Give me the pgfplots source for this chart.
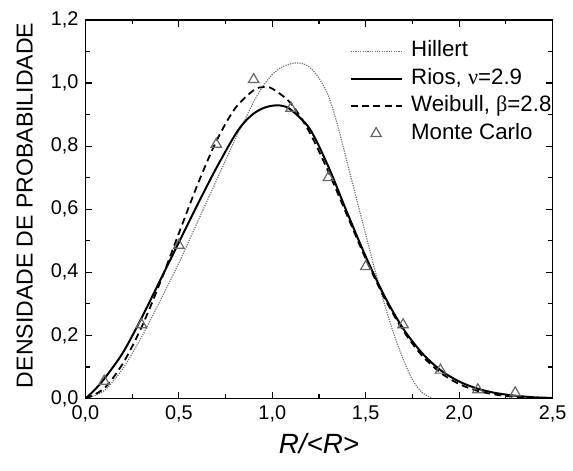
\documentclass[border=0pt]{standalone}
\usepackage{pgfplots}
\pgfplotsset{compat=1.18}
\usepackage{fontspec}
\setmainfont{Liberation Sans}
\newfontfamily\greek{Liberation Serif}

\pgfplotsset{
    markleg/.style={legend image code/.code={%
        \draw[mark repeat=2, mark phase=2, ##1] plot coordinates {(0cm,0cm) (0.45cm,0cm) (0.9cm,0cm)};
        \path (1.0cm,0cm);}},
}

\begin{document}
\begin{tikzpicture}
\begin{axis}[
    scale only axis,
    width=235pt, height=190.5pt,
    xmin=0, xmax=2.5, ymin=0, ymax=1.2,
    xtick={0,0.5,...,2.5},
    ytick={0,0.2,...,1.2},
    minor x tick num=1,
    minor y tick num=1,
    tick align=inside,
    xtick pos=both, ytick pos=both,
    major tick length=3.4pt,
    minor tick length=2.3pt,
    every tick/.style={black, line width=0.6pt},
    axis line style={line width=0.8pt},
    tick label style={font=\fontsize{10}{12}\selectfont},
    /pgf/number format/.cd, fixed, fixed zerofill, precision=1, use comma, assume math mode=true,
    /pgfplots/.cd,
    xlabel={\textit{R/<R>}},
    ylabel={DENSIDADE DE PROBABILIDADE},
    xlabel style={font=\fontsize{14}{16}\selectfont, at={(axis description cs:0.5,-0.12)}, anchor=center},
    ylabel style={font=\fontsize{11.6}{13}\selectfont, at={(axis description cs:-0.13,0.51)}, anchor=center},
    legend cell align=left,
    legend image code/.code={\draw[#1] (0cm,0cm) -- (0.9cm,0cm); \path (1.0cm,0cm);},
    legend style={draw=none, fill=none, at={(rel axis cs:0.552,0.965)}, anchor=north west,
        font=\fontsize{11.2}{13}\selectfont,
        nodes={text height=8.2pt, text depth=2.6pt, inner sep=1.5pt}},
]

% Hillert
\addplot[smooth, black!55, line width=0.6pt, dash pattern=on 0.6pt off 0.6pt] coordinates {
    (0,0) (0.1,0.025) (0.2,0.095) (0.3,0.195) (0.4,0.31) (0.5,0.43)
    (0.6,0.56) (0.7,0.69) (0.8,0.82) (0.85,0.88) (0.9,0.94) (0.95,0.99)
    (1.0,1.027) (1.05,1.05) (1.1,1.061) (1.15,1.063) (1.2,1.05) (1.25,1.015)
    (1.3,0.96) (1.35,0.865) (1.4,0.75) (1.45,0.635) (1.5,0.52) (1.55,0.405)
    (1.6,0.30) (1.65,0.205) (1.7,0.125) (1.75,0.06) (1.8,0.02) (1.85,0.002)
};

% Rios
\addplot[smooth, black, line width=1pt] coordinates {
    (0,0) (0.05,0.028) (0.1,0.062) (0.2,0.145) (0.3,0.255) (0.4,0.375)
    (0.5,0.495) (0.6,0.615) (0.7,0.73) (0.8,0.835) (0.85,0.875) (0.9,0.903)
    (0.95,0.92) (1.0,0.928) (1.05,0.928) (1.1,0.915) (1.2,0.855) (1.3,0.735)
    (1.4,0.59) (1.5,0.45) (1.6,0.325) (1.7,0.222) (1.8,0.145) (1.9,0.09)
    (2.0,0.054) (2.1,0.031) (2.2,0.017) (2.3,0.009) (2.4,0.004) (2.5,0.002)
};

% Weibull
\addplot[smooth, black, line width=0.9pt, dash pattern=on 3.5pt off 2.2pt] coordinates {
    (0,0) (0.1,0.032) (0.2,0.111) (0.3,0.226) (0.4,0.368) (0.5,0.524)
    (0.6,0.678) (0.7,0.815) (0.8,0.919) (0.9,0.977) (0.95,0.987) (1.0,0.982)
    (1.1,0.935) (1.2,0.843) (1.3,0.719) (1.4,0.581) (1.5,0.443) (1.6,0.319)
    (1.7,0.216) (1.8,0.137) (1.9,0.082) (2.0,0.046) (2.1,0.024) (2.2,0.012)
    (2.3,0.005) (2.4,0.002) (2.5,0.001)
};

% Monte Carlo
\addplot[only marks, mark=triangle, mark size=3pt, mark options={draw=black!60, line width=0.6pt}, markleg]
    coordinates {
    (0.1,0.055) (0.3,0.234) (0.5,0.486) (0.7,0.806) (0.9,1.011) (1.1,0.92)
    (1.3,0.70) (1.5,0.418) (1.7,0.234) (1.9,0.09) (2.1,0.028) (2.3,0.018)
};

\legend{Hillert, {Rios, {\greek ν}=2.9}, {Weibull, {\greek β}=2.8}, Monte Carlo}
\end{axis}
\useasboundingbox (-43pt,-36pt) rectangle (243.5pt,200.5pt);
\end{tikzpicture}
\end{document}
